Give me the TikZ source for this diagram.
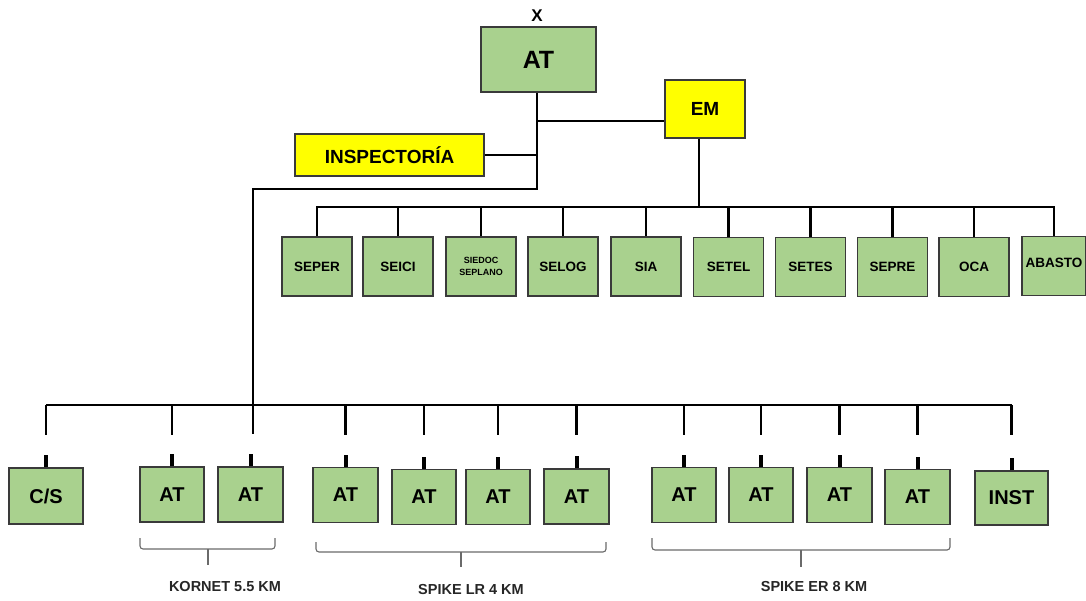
\documentclass[tikz,border=0pt]{standalone}
\usepackage{fontspec}
\setmainfont{Liberation Sans}
\usetikzlibrary{calc}
\definecolor{gfill}{HTML}{A9D18E}
\definecolor{yfill}{HTML}{FFFF00}
\definecolor{bord}{HTML}{3A3A3A}
\definecolor{brkcol}{HTML}{6A6A6A}
\tikzset{
 box/.style={draw=bord, line width=1.3pt, inner sep=0pt, align=center},
 gbox/.style={box, fill=gfill},
 yelbox/.style={box, fill=yfill},
 topfont/.style={font=\bfseries\fontsize{25}{30}\selectfont},
 midfont/.style={font=\bfseries\fontsize{13.5}{16}\selectfont},
 smallfont/.style={font=\bfseries\fontsize{9}{12}\selectfont},
 botfont/.style={font=\bfseries\fontsize{20}{24}\selectfont},
 mbox/.style={gbox, midfont, minimum width=70pt, minimum height=59pt},
 bbox/.style={gbox, botfont, minimum width=65pt, minimum height=55pt},
 conn/.style={line width=2.4pt, black},
 stub/.style={line width=4pt, black},
 brk/.style={line width=1.1pt, draw=brkcol, rounded corners=3pt},
 lbl/.style={font=\bfseries\fontsize{14.5}{17}\selectfont, text=black!85}
}
\begin{document}
\begin{tikzpicture}[x=1pt,y=-1pt]
\useasboundingbox (0,0) rectangle (1086,601);
\fill[white] (0,0) rectangle (1086,601);

% top level
\node[font=\bfseries\fontsize{17}{20}\selectfont] (x) at (537,16) {X};
\node[gbox, topfont, minimum width=115pt, minimum height=65pt] (at) at (538.5,59.5) {AT};
\node[yelbox, font=\bfseries\fontsize{19}{22}\selectfont, minimum width=80pt, minimum height=58pt] (em) at (705,109) {EM};
\node[yelbox, font=\bfseries\fontsize{19}{22}\selectfont, minimum width=189pt, minimum height=42pt] (insp) at (389.5,155) {INSPECTORÍA};

% middle row
\node[mbox] (seper) at (317,266.5) {SEPER};
\node[mbox] (seici) at (398,266.5) {SEICI};
\node[mbox, smallfont] (siedoc) at (481,266.5) {SIEDOC\\SEPLANO};
\node[mbox] (selog) at (563,266.5) {SELOG};
\node[mbox] (sia) at (646,266.5) {SIA};
\node[mbox] (setel) at (728.5,267) {SETEL};
\node[mbox] (setes) at (810.5,267) {SETES};
\node[mbox] (sepre) at (892.5,267) {SEPRE};
\node[mbox] (oca) at (974,267) {OCA};
\node[mbox, minimum width=64pt, text depth=6pt] (abasto) at (1054,266) {ABASTO};

% bottom row
\node[bbox, minimum width=74pt, minimum height=56pt] (cs) at (46,496) {C/S};
\node[bbox, minimum width=64pt] (at1) at (172,494.5) {AT};
\node[bbox] (at2) at (250.5,494.5) {AT};
\node[bbox] (at3) at (345.5,495) {AT};
\node[bbox, minimum width=64pt] (at4) at (424,497) {AT};
\node[bbox, minimum width=64pt] (at5) at (498,497) {AT};
\node[bbox] (at6) at (576.5,496.5) {AT};
\node[bbox, minimum width=64pt] (at7) at (684,495) {AT};
\node[bbox, minimum width=64pt] (at8) at (761,495) {AT};
\node[bbox] (at9) at (839.5,495) {AT};
\node[bbox] (at10) at (917.5,497) {AT};
\node[bbox, minimum width=73pt, minimum height=54pt] (inst) at (1011.5,498) {INST};

% connectors top
\coordinate (jem) at (537,121);
\coordinate (jins) at (537,155);
\coordinate (jlow) at (537,189);
\draw[conn] (at.south -| jem) -- (jlow) -| ($(at2.north)+(2.5,-32)$);
\draw[conn] (jem) -- (jem -| em.west);
\draw[conn] (insp.east) -- (jins);

% middle bus
\coordinate (mbus) at (316,207);
\draw[conn] ($(em.south)+(-6,0)$) -- ($(em.south |- mbus)+(-6,0)$);
\draw[conn] (seper.north) -- (seper.north |- mbus) -- (abasto.north |- mbus) -- (abasto.north);
\foreach \n in {seici,siedoc,selog,sia,setel,setes,sepre,oca}
  \draw[conn] (\n.north) -- (\n.north |- mbus);

% bottom bus
\coordinate (bbus) at (46,405);
\draw[conn] (cs.north |- bbus) -- (inst.north |- bbus);
\foreach \n in {cs,at1,at3,at4,at5,at6,at7,at8,at9,at10,inst}
  \draw[conn] (\n.north |- bbus) -- ++(0,30);
\foreach \n in {cs,at1,at2,at3,at4,at5,at6,at7,at8,at9,at10,inst}
  \draw[stub] (\n.north) -- ++(0,-12);

% brackets
\draw[brk] (140,538) -- (140,549) -- (275,549) -- (275,538);
\draw[brk, rounded corners=0pt] (208,549) -- (208,565);
\node[lbl] (kor) at (225,587) {KORNET 5.5 KM};
\draw[brk] (316,542) -- (316,552) -- (606,552) -- (606,542);
\draw[brk, rounded corners=0pt] (461,552) -- (461,567);
\node[lbl] (lr) at (471,590) {SPIKE LR 4 KM};
\draw[brk] (652,538) -- (652,550) -- (950,550) -- (950,538);
\draw[brk, rounded corners=0pt] (801,550) -- (801,567);
\node[lbl] (er) at (814,587) {SPIKE ER 8 KM};
\end{tikzpicture}
\end{document}
